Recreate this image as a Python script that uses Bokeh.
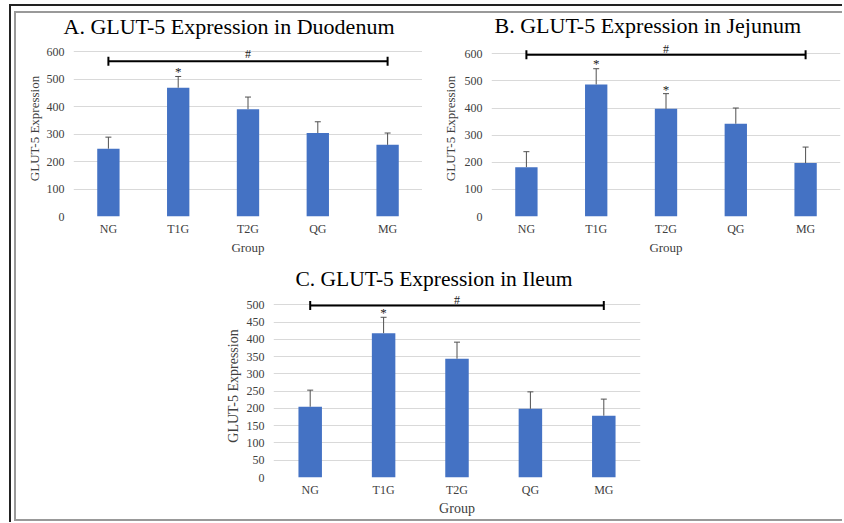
import math
from bokeh.plotting import figure
from bokeh.models import ColumnDataSource, Whisker, TeeHead, FixedTicker, Range1d, FactorRange, Spacer, Title
from bokeh.layouts import column, row
from bokeh.embed import file_html
from bokeh.resources import INLINE
from bokeh.core.properties import value

groups = ["NG", "T1G", "T2G", "QG", "MG"]

duo_mean = [247, 469, 391, 304, 261]
duo_err = [42, 41, 44, 41, 43]
jej_mean = [182, 487, 397, 342, 197]
jej_err = [57, 58, 56, 58, 59]
ile_mean = [205, 418, 344, 199, 179]
ile_err = [48, 46, 48, 49, 48]

ticks_ab = [0, 100, 200, 300, 400, 500, 600]
ticks_c = [0, 50, 100, 150, 200, 250, 300, 350, 400, 450, 500]

bracket_levels = [565, 596, 498]
hash_levels = [593, 616, 513]
star_groups_a = ["T1G"]
star_levels_a = [528]
star_groups_b = ["T1G", "T2G"]
star_levels_b = [566, 469]
star_groups_c = ["T1G"]
star_levels_c = [477]

titles = ["A. GLUT-5 Expression in Duodenum",
          "B. GLUT-5 Expression in Jejunum",
          "C. GLUT-5 Expression in Ileum"]

FONT = "'Liberation Serif', 'Times New Roman', serif"
BAR = "#4472C4"
GRID = "#d9d9d9"
TXT = "#404040"


def panel(title, means, errs, ticks, yend, blevel, hlevel, sgroups, slevels,
          width, height, bl, br, bt, bb, toff, tstand, tsize, ysoff, ylsoff, lsize):
    p = figure(x_range=FactorRange(*groups), y_range=Range1d(0, yend),
               width=width, height=height, output_backend="svg",
               toolbar_location=None,
               min_border_left=bl, min_border_right=br,
               min_border_top=bt, min_border_bottom=bb)
    p.title = Title(text=title, align="left", offset=toff, standoff=tstand,
                    text_font=FONT, text_font_size=tsize,
                    text_font_style="normal", text_color="black")
    p.background_fill_color = None
    p.border_fill_color = None
    p.outline_line_color = None

    p.vbar(x=groups, top=means, width=0.32, fill_color=BAR, line_color=None)

    src = ColumnDataSource(dict(x=groups, lo=means,
                                hi=[m + e for m, e in zip(means, errs)]))
    p.add_layout(Whisker(base="x", lower="lo", upper="hi", source=src,
                         lower_head=None,
                         upper_head=TeeHead(size=6, line_color="#505050", line_width=1),
                         line_color="#505050", line_width=1, level="annotation"))

    p.segment(x0=[groups[0]], y0=[blevel], x1=[groups[-1]], y1=[blevel],
              line_color="black", line_width=2)
    p.scatter(x=[groups[0], groups[-1]], y=[blevel, blevel], marker="dash",
              angle=math.pi / 2, size=9, line_color="black", line_width=2)
    p.text(x=[groups[2]], y=[hlevel], text=["#"], text_align="center",
           text_baseline="middle", text_font=value(FONT), text_font_size="12px",
           text_color="#222222")
    p.text(x=sgroups, y=slevels, text=["*"] * len(sgroups), text_align="center",
           text_baseline="middle", text_font=value(FONT), text_font_size="13px",
           text_color="#222222")

    p.xgrid.grid_line_color = None
    p.ygrid.grid_line_color = GRID
    p.yaxis.ticker = FixedTicker(ticks=ticks)
    for ax in (p.xaxis, p.yaxis):
        ax.axis_line_color = None
        ax.major_tick_line_color = None
        ax.minor_tick_line_color = None
        ax.major_tick_out = 0
        ax.major_tick_in = 0
        ax.minor_tick_out = 0
        ax.minor_tick_in = 0
        ax.major_label_text_font = FONT
        ax.major_label_text_font_size = "12px"
        ax.major_label_text_color = TXT
        ax.axis_label_text_font = FONT
        ax.axis_label_text_font_size = lsize
        ax.axis_label_text_font_style = "normal"
        ax.axis_label_text_color = TXT
    p.xaxis.axis_label = "Group"
    p.yaxis.axis_label = "GLUT-5 Expression"
    p.xaxis.major_label_standoff = 5
    p.xaxis.axis_label_standoff = 1
    p.yaxis.major_label_standoff = ysoff
    p.yaxis.axis_label_standoff = ylsoff
    return p


pa = panel(titles[0], duo_mean, duo_err, ticks_ab, 641, bracket_levels[0], hash_levels[0],
           star_groups_a, star_levels_a, 422, 258, 73, 0, 40, 42, -10, 4, "22px", 9, 2, "13px")
pb = panel(titles[1], jej_mean, jej_err, ticks_ab, 649, bracket_levels[1], hash_levels[1],
           star_groups_b, star_levels_b, 420, 258, 69, 2, 40, 41, 3, 5, "22px", 9, 4, "13px")
pc = panel(titles[2], ile_mean, ile_err, ticks_c, 530, bracket_levels[2], hash_levels[2],
           star_groups_c, star_levels_c, 450, 264, 73, 10, 36, 45, 22, 8, "21.5px", 9, 3, "14px")

shadow = ", ".join([
    "inset 9px 0 0 #fff", "inset 0 4px 0 #fff",
    "inset 11px 0 0 #222", "inset 0 6px 0 #222",
    "inset 14px 0 0 #fff", "inset 0 11px 0 #fff",
    "inset 0 -1px 0 #fff",
    "inset 16px 0 0 #999", "inset 0 13px 0 #999",
    "inset 0 -3px 0 #999",
])

layout = column(
    row(pa, pb),
    row(Spacer(width=200, height=264), pc),
    styles={"box-shadow": shadow},
)

open("out.html", "w").write(file_html(layout, INLINE))
